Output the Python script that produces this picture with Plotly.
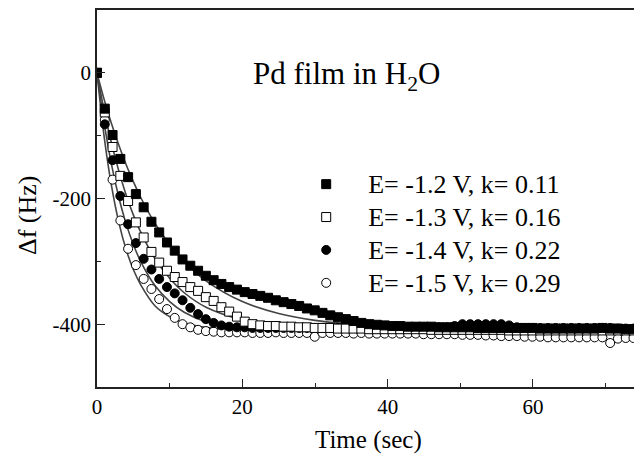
import plotly.graph_objects as go

# Time axis (sec) of the sampled data
time_s = [0, 1.07, 2.14, 3.21, 4.28, 5.35, 6.42, 7.49, 8.56, 9.63,
          10.7, 11.77, 12.84, 13.91, 14.98, 16.05, 17.12, 18.19, 19.26, 20.33,
          21.4, 22.47, 23.54, 24.61, 25.68, 26.75, 27.82, 28.89, 29.96, 31.03,
          32.1, 33.17, 34.24, 35.31, 36.38, 37.45, 38.52, 39.59, 40.66, 41.73,
          42.8, 43.87, 44.94, 46.01, 47.08, 48.15, 49.22, 50.29, 51.36, 52.43,
          53.5, 54.57, 55.64, 56.71, 57.78, 58.85, 59.92, 60.99, 62.06, 63.13,
          64.2, 65.27, 66.34, 67.41, 68.48, 69.55, 70.62, 71.69, 72.76, 73.83]

# Delta f (Hz) for each potential
df_12 = [0, -57, -99, -137, -166, -193, -214, -237, -254, -270,
         -283, -297, -307, -315, -323, -330, -336, -341, -345, -349,
         -352, -355, -358, -362, -365, -368, -371, -375, -378, -382,
         -386, -389, -392, -395, -398, -400, -401, -402, -403, -403,
         -404, -404, -404, -404, -405, -405, -405, -405, -405, -406,
         -406, -406, -406, -406, -406, -406, -406, -407, -407, -407,
         -407, -407, -407, -407, -407, -406, -407, -407, -408, -408]
df_13 = [0, -63, -118, -164, -204, -238, -262, -285, -302, -315,
         -325, -333, -341, -347, -357, -363, -373, -380, -388, -396,
         -400, -402, -403, -403, -404, -404, -405, -405, -406, -406,
         -406, -407, -407, -407, -407, -408, -408, -408, -408, -408,
         -408, -408, -408, -409, -409, -409, -409, -409, -409, -409,
         -409, -409, -409, -410, -410, -410, -410, -410, -410, -410,
         -410, -410, -410, -410, -410, -410, -410, -410, -410, -410]
df_14 = [0, -82, -139, -196, -241, -271, -296, -313, -328, -341,
         -351, -362, -374, -384, -392, -398, -402, -404, -405, -405,
         -406, -406, -406, -406, -406, -406, -406, -406, -406, -406,
         -406, -406, -406, -406, -406, -406, -406, -406, -406, -406,
         -405, -405, -405, -405, -405, -405, -403, -400, -400, -400,
         -400, -400, -400, -402, -405, -406, -406, -406, -406, -406,
         -406, -406, -406, -406, -406, -406, -406, -407, -407, -407]
df_15 = [0, -75, -170, -235, -280, -306, -328, -344, -360, -376,
         -390, -400, -405, -409, -411, -412, -413, -413, -413, -413,
         -414, -414, -414, -413, -414, -414, -414, -414, -420, -414,
         -414, -414, -414, -415, -414, -415, -415, -415, -415, -415,
         -415, -415, -416, -416, -416, -416, -416, -417, -417, -417,
         -418, -418, -419, -419, -419, -420, -420, -420, -421, -421,
         -421, -421, -421, -421, -421, -421, -430, -423, -422, -422]

# Fitted curves
fit_time = [0, 1, 2, 3, 4, 5, 6, 8, 10, 12, 15, 20, 25, 30, 35, 40, 50, 60, 74]
fit_12 = [0, -43, -81, -115, -146, -173, -198, -240, -273, -300, -331, -364, -383, -394, -400, -404, -408, -409, -410]
fit_13 = [0, -61, -112, -156, -194, -226, -253, -296, -327, -350, -373, -393, -402, -407, -409, -410, -410, -410, -410]
fit_14 = [0, -81, -146, -198, -240, -273, -300, -339, -364, -381, -396, -405, -408, -410, -410, -410, -410, -410, -410]
fit_15 = [0, -103, -180, -238, -281, -313, -337, -371, -388, -398, -405, -409, -410, -410, -410, -410, -410, -410, -410]

labels = ["E= -1.2 V, k= 0.11", "E= -1.3 V, k= 0.16",
          "E= -1.4 V, k= 0.22", "E= -1.5 V, k= 0.29"]

x_ticks = [0, 20, 40, 60]
y_ticks = [-400, -200, 0]
y_tick_text = ["-400", "-200", "0"]

SERIF = "Liberation Serif, Times New Roman, serif"
NB = "\u00a0\u00a0"

fig = go.Figure()

for f in [fit_12, fit_13, fit_14, fit_15]:
    fig.add_trace(go.Scatter(x=fit_time, y=f, mode="lines",
                             line=dict(color="#444444", width=1.6, shape="spline"),
                             showlegend=False, hoverinfo="skip"))

series = [
    (df_15, labels[3], "circle", "white", 4),
    (df_14, labels[2], "circle", "black", 3),
    (df_13, labels[1], "square", "white", 2),
    (df_12, labels[0], "square", "black", 1),
]
for vals, name, sym, fill, rank in series:
    fig.add_trace(go.Scatter(
        x=time_s, y=vals, mode="markers",
        name=NB + '<span style="font-size:26px">' + name + "</span>",
        legendrank=rank,
        marker=dict(symbol=sym, size=9, color=fill,
                    line=dict(color="black", width=1)),
    ))

fig.update_layout(
    width=634, height=458,
    margin=dict(l=97, r=0, t=10, b=71),
    paper_bgcolor="white", plot_bgcolor="white",
    font=dict(family=SERIF, color="black"),
    legend=dict(x=0.370, y=0.595, xanchor="left", yanchor="top",
                font=dict(family=SERIF, size=23, color="black"),
                bgcolor="rgba(0,0,0,0)", itemwidth=51, tracegroupgap=0),
    annotations=[
        dict(text="Pd film in H<sub>2</sub>O", x=0.4637, y=0.825,
             xref="paper", yref="paper", showarrow=False,
             font=dict(family=SERIF, size=31, color="black"),
             xanchor="center", yanchor="middle"),
        dict(text="Time (sec)", x=0.505, y=-0.1406, xref="paper", yref="paper",
             showarrow=False, font=dict(family=SERIF, size=25, color="black"),
             xanchor="center", yanchor="middle"),
        dict(text="Δf (Hz)", x=-0.1304, y=0.456, xref="paper", yref="paper",
             showarrow=False, textangle=-90,
             font=dict(family=SERIF, size=26, color="black"),
             xanchor="center", yanchor="middle"),
    ],
)

fig.update_xaxes(range=[0, 73.9], showgrid=False, zeroline=False,
                 showline=True, linecolor="#222222", linewidth=1.5, mirror=True,
                 ticks="inside", ticklen=8, tickwidth=1.2, tickcolor="#222222",
                 tickvals=x_ticks,
                 minor=dict(tickvals=[10, 30, 50, 70], ticks="inside", ticklen=4,
                            tickwidth=1.2, tickcolor="#222222"),
                 tickfont=dict(family=SERIF, size=21, color="black"))
fig.update_yaxes(range=[-500, 100], showgrid=False, zeroline=False,
                 showline=True, linecolor="#222222", linewidth=1.5, mirror=False,
                 ticks="inside", ticklen=8, tickwidth=1.2, tickcolor="#222222",
                 tickvals=y_ticks, ticktext=y_tick_text,
                 minor=dict(tickvals=[-500, -300, -100, 100], ticks="inside", ticklen=4,
                            tickwidth=1.2, tickcolor="#222222"),
                 tickfont=dict(family=SERIF, size=21, color="black"))

fig.write_html("out.html", config={"displayModeBar": False})

# remove the default page margin so the figure sits at the window origin
with open("out.html", "r", encoding="utf-8") as fh:
    html = fh.read()
html = html.replace("<head>", "<head><style>html,body{margin:0;padding:0;overflow:hidden;}</style>", 1)
with open("out.html", "w", encoding="utf-8") as fh:
    fh.write(html)
